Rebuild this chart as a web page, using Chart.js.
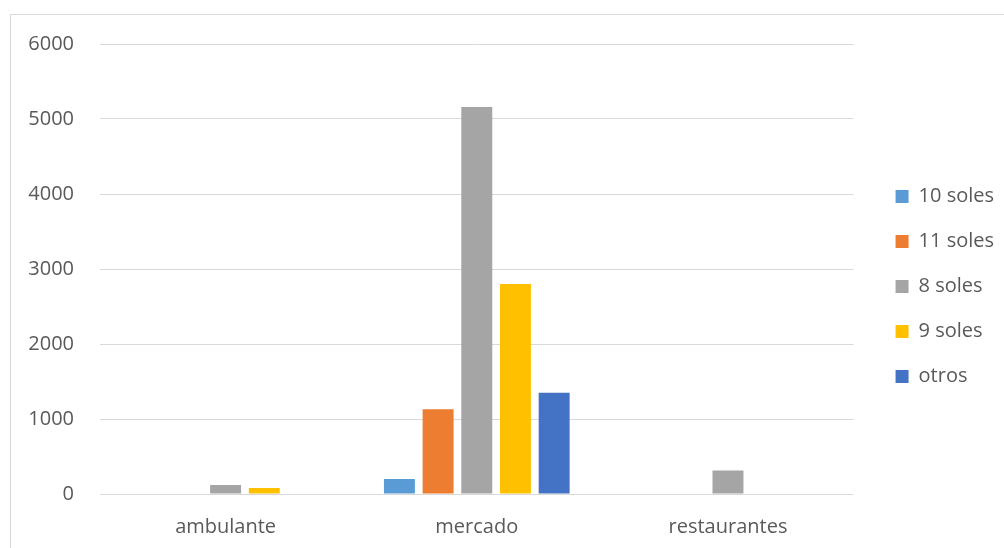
<!DOCTYPE html>
<html>
<head>
<meta charset="utf-8">
<script src="https://cdn.jsdelivr.net/npm/chart.js@4.4.1/dist/chart.umd.min.js"></script>
<style>
  body { margin: 0; background: #fff; overflow: hidden; }
  #frame { position: absolute; left: 10px; top: 14px; width: 1100px; height: 600px;
           border-left: 1px solid #d9d9d9; border-top: 1px solid #d9d9d9; }
  #chart { position: absolute; left: 0; top: 0; }
</style>
</head>
<body>
<div id="frame"></div>
<canvas id="chart" width="1004" height="548"></canvas>
<script>
// categories and series
const categories = ['ambulante', 'mercado', 'restaurantes'];
const seriesNames = ['10 soles', '11 soles', '8 soles', '9 soles', 'otros'];
const soles10 = [0, 200, 0];
const soles11 = [0, 1130, 0];
const soles8 = [120, 5160, 315];
const soles9 = [80, 2800, 0];
const otros = [0, 1350, 0];
const yTicks = [0, 1000, 2000, 3000, 4000, 5000, 6000];

const colors = ['#5B9BD5', '#ED7D31', '#A5A5A5', '#FFC000', '#4472C4'];
const values = [soles10, soles11, soles8, soles9, otros];

const textColor = '#595959';
const fontFamily = '"Open Sans", sans-serif';

const datasets = seriesNames.map((name, i) => ({
  label: name,
  data: values[i],
  backgroundColor: colors[i],
  borderWidth: 0,
  categoryPercentage: 0.77,
  barPercentage: 0.8
}));

// blank spacer axis, only takes room
const spacer = (pos, size) => ({
  type: 'linear',
  position: pos,
  grid: { display: false },
  border: { display: false },
  ticks: { display: false },
  afterFit: s => {
    if (pos === 'top') s.height = size; else s.width = size;
  }
});

new Chart(document.getElementById('chart'), {
  type: 'bar',
  data: { labels: categories, datasets: datasets },
  options: {
    responsive: false,
    animation: false,
    layout: { padding: { top: 25, left: 0, right: 0, bottom: 0 } },
    scales: {
      x: {
        grid: { display: false },
        border: { display: false },
        ticks: { color: textColor, font: { family: fontFamily, size: 20 }, padding: 13 },
        afterFit: s => { s.height = 54; }
      },
      y: {
        min: 0,
        max: 6000,
        afterBuildTicks: s => { s.ticks = yTicks.map(v => ({ value: v })); },
        grid: { color: '#d9d9d9', lineWidth: 1, drawTicks: false },
        border: { display: false },
        ticks: {
          color: textColor,
          font: { family: fontFamily, size: 20 },
          padding: 26,
          callback: v => String(v)
        },
        afterFit: s => { s.width = 100; }
      },
      topGap: spacer('top', 19),
      rightGap: spacer('right', 17)
    },
    plugins: {
      legend: {
        position: 'right',
        align: 'center',
        labels: {
          color: textColor,
          font: { family: fontFamily, size: 20 },
          boxWidth: 13,
          boxHeight: 13,
          padding: 25
        }
      },
      tooltip: { enabled: false }
    }
  }
});
</script>
</body>
</html>
